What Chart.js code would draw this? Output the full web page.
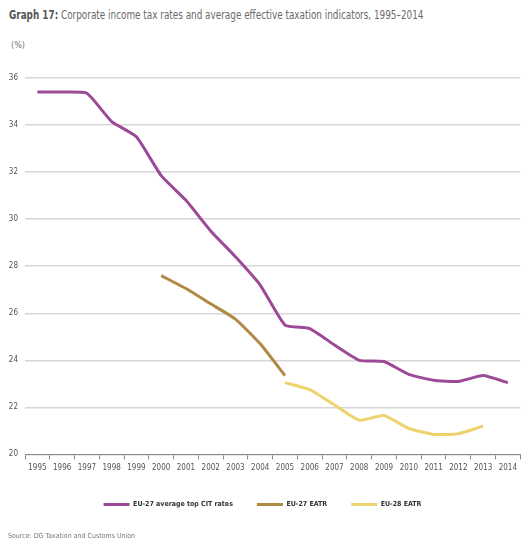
<!DOCTYPE html>
<html>
<head>
<meta charset="utf-8">
<script src="https://cdn.jsdelivr.net/npm/chart.js@4"></script>
<style>
  body { margin: 0; background: #fff; }
  .wrap { position: relative; width: 521px; height: 546px; overflow: hidden; }
  .title { position: absolute; left: 9px; top: 8px; font: 12px 'Liberation Sans Narrow', 'DejaVu Sans Condensed', sans-serif; color: #6a6a6a; white-space: nowrap; transform: scaleX(0.82); transform-origin: left top; }
  .title b { color: #555; }
  .unit { position: absolute; left: 11px; top: 40px; font: 9px 'Liberation Sans Narrow', 'DejaVu Sans Condensed', sans-serif; color: #777; }
  .source { position: absolute; left: 8px; top: 532px; font: 7px 'Liberation Sans Narrow', 'DejaVu Sans Condensed', sans-serif; color: #777; }
  canvas { position: absolute; left: 0; top: 0; }
</style>
</head>
<body>
<div class="wrap">
  <div class="title"><b>Graph 17:</b> Corporate income tax rates and average effective taxation indicators, 1995–2014</div>
  <div class="unit">(%)</div>
  <canvas id="taxChart" width="521" height="546"></canvas>
  <div class="source">Source: DG Taxation and Customs Union</div>
</div>
<script>
const years = ['1995', '1996', '1997', '1998', '1999', '2000', '2001', '2002', '2003', '2004',
  '2005', '2006', '2007', '2008', '2009', '2010', '2011', '2012', '2013', '2014'];
const citRates = [35.4, 35.4, 35.35, 34.15, 33.5, 31.85, 30.8, 29.5, 28.4, 27.2,
  25.5, 25.35, 24.65, 24.0, 23.95, 23.4, 23.15, 23.1, 23.35, 23.05];
const eatrEu27 = [null, null, null, null, null, 27.6, 27.05, 26.4, 25.75, 24.7,
  23.35, null, null, null, null, null, null, null, null, null];
const eatrEu28 = [null, null, null, null, null, null, null, null, null, null,
  23.05, 22.75, 22.1, 21.45, 21.65, 21.1, 20.85, 20.88, 21.2, null];
const yTicks = [20, 22, 24, 26, 28, 30, 32, 34, 36];

const narrow = "'Liberation Sans Narrow', 'DejaVu Sans Condensed', sans-serif";

document.addEventListener('DOMContentLoaded', () => {
  const ctx = document.getElementById('taxChart').getContext('2d');
  new Chart(ctx, {
    type: 'line',
    data: {
      labels: years,
      datasets: [
        { label: 'EU-27 average top CIT rates', data: citRates, borderColor: '#9c4a97', backgroundColor: '#9c4a97', borderWidth: 3, pointRadius: 0, tension: 0.15 },
        { label: 'EU-27 EATR', data: eatrEu27, borderColor: '#b08a45', backgroundColor: '#b08a45', borderWidth: 3, pointRadius: 0, tension: 0.15 },
        { label: 'EU-28 EATR', data: eatrEu28, borderColor: '#ecd36e', backgroundColor: '#ecd36e', borderWidth: 3, pointRadius: 0, tension: 0.15 },
      ],
    },
    options: {
      responsive: false,
      animation: false,
      layout: { padding: { top: 78, right: 0, bottom: 28, left: 4 } },
      plugins: {
        tooltip: { enabled: false },
        legend: {
          position: 'bottom',
          labels: {
            boxWidth: 26,
            boxHeight: 3,
            padding: 24,
            color: '#333',
            font: { family: narrow, size: 7, weight: 'bold' },
            generateLabels: (chart) => Chart.defaults.plugins.legend.labels.generateLabels(chart).map((item) => {
              item.lineWidth = 0;
              return item;
            }),
          },
        },
      },
      scales: {
        x: {
          offset: true,
          grid: { display: true, drawOnChartArea: false, offset: true, tickLength: 5, color: '#888' },
          border: { color: '#888', width: 1 },
          ticks: { color: '#555', font: { family: narrow, size: 8 }, maxRotation: 0, autoSkip: false, padding: 4 },
        },
        y: {
          min: 20,
          max: 36,
          afterBuildTicks: (scale) => { scale.ticks = yTicks.map((v) => ({ value: v })); },
          afterFit: (scale) => { scale.width = 21; },
          grid: { color: '#d6d6d6', lineWidth: 1.5, drawTicks: false },
          border: { display: false },
          ticks: { color: '#555', font: { family: narrow, size: 8 }, padding: 7 },
        },
      },
    },
  });
});
</script>
</body>
</html>
